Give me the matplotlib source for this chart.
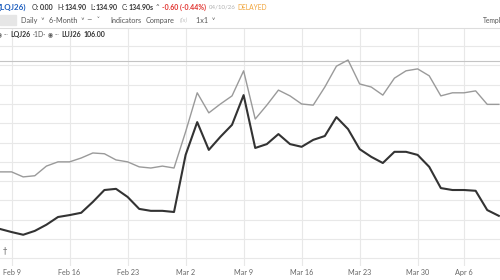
# 两条期货价格走势图 (LQJ26 / LUJ26)
import matplotlib.pyplot as plt
import numpy as np

plt.rcParams['font.family'] = ['Lato', 'DejaVu Sans']

# 交易日序列
lqj26 = [117.4, 117.4, 116.1, 116.4, 118.9, 120.0, 120.0, 121.0, 122.3, 122.1,
         120.5, 120.0, 118.7, 118.4, 118.9, 118.4, 127.8, 137.9, 132.7, 135.0,
         137.1, 143.6, 131.1, 134.7, 138.6, 137.1, 135.0, 134.7, 139.4, 144.8,
         146.4, 140.2, 139.4, 137.3, 141.7, 143.6, 144.1, 142.3, 137.1, 137.9,
         137.9, 138.4, 134.9, 134.9]
luj26 = [102.6, 101.8, 101.1, 102.1, 103.7, 105.7, 106.2, 106.8, 109.6, 112.7,
         113.0, 110.9, 107.8, 107.3, 107.3, 107.0, 121.8, 130.3, 123.1, 126.5,
         129.6, 137.3, 123.6, 124.6, 127.2, 124.6, 123.9, 125.7, 126.7, 131.6,
         128.5, 123.3, 121.3, 119.7, 122.6, 122.6, 121.8, 118.7, 113.2, 112.7,
         112.7, 112.5, 107.5, 106.0]
tick_pos = [1, 6, 11, 16, 21, 26, 31, 36, 40]
tick_labels = ["Feb 9", "Feb 16", "Feb 23", "Mar 2", "Mar 9", "Mar 16",
               "Mar 23", "Mar 30", "Apr 6"]
grid_levels = [95, 100, 105, 110, 115, 120, 125, 130, 135, 140, 145, 150]
high_line = 146.1

fig = plt.figure(figsize=(5, 2.8), dpi=100)
ax = fig.add_axes([0, 14 / 280, 1, 238 / 280])

x = np.arange(len(lqj26))
ax.plot(x, lqj26, color='#9a9a9a', lw=1.0, zorder=3)
ax.plot(x, luj26, color='#333333', lw=1.5, zorder=4)

for g in grid_levels:
    ax.axhline(g, color='#e8e8e8', lw=0.8, zorder=1)
ax.axhline(high_line, color='#c4c4c4', lw=0.8, zorder=2)
for p in tick_pos:
    ax.axvline(p, color='#e8e8e8', lw=0.8, zorder=1)

ax.set_xlim(0, 43.1)
ax.set_ylim(93.0, 154.7)
ax.set_xticks(tick_pos)
ax.set_xticklabels(tick_labels, fontsize=5.2, color='#666666')
ax.tick_params(axis='x', length=0, pad=2.5)
ax.set_yticks([])
for s in ['left', 'right', 'bottom']:
    ax.spines[s].set_visible(False)
ax.spines['top'].set_color('#dddddd')
ax.spines['top'].set_linewidth(0.8)
ax.text(0.006, 0.055, "†", transform=ax.transAxes, fontsize=6, color='#777777',
        family='DejaVu Sans')

renderer = fig.canvas.get_renderer()


def row(x0, yp, pieces, size=5.0, color='#333333'):
    # 按顺序排列文字, 每段 (文字, 前间距, 样式)
    xp = x0
    for s, gap, kw in pieces:
        kw = dict(kw)
        kw.setdefault('fontsize', size)
        kw.setdefault('color', color)
        xp += gap
        t = fig.text(xp / 500, 1 - yp / 280, s, va='center', ha='left', **kw)
        xp += t.get_window_extent(renderer).width


B = {'fontweight': 'bold'}
# 第一行: 报价
row(-1, 7, [
    ("(LQJ26)", 0, {'color': '#1f5fbf', 'fontweight': 'bold', 'fontsize': 5.8}),
    ("O:", 5, {}), ("0.00", 0.5, B),
    ("H:", 4, {}), ("134.90", 0.5, B),
    ("L:", 3.5, {}), ("134.90", 0.5, B),
    ("C:", 3.5, {}), ("134.90s", 0.5, B),
    ("^", 2.5, {'fontsize': 4.5}),
    ("-0.60 (-0.44%)", 2.5, {'color': '#e0312d', 'fontweight': 'bold'}),
    ("04/10/26", 3, {'color': '#b0b0b0', 'fontsize': 4.4}),
    ("DELAYED", 1.5, {'color': '#f0a43a', 'fontsize': 4.8}),
], size=5.0)

# 第二行: 工具栏
fig.patches.append(plt.Rectangle((0, 1 - 25 / 280), 16 / 500, 10 / 280,
                                 transform=fig.transFigure, color='#e6e6e6'))
tb = {'fontsize': 5.2, 'color': '#555555'}
row(21, 20.5, [("Daily  \u02c5", 0, tb)])
row(49, 20.5, [("6-Month  \u02c5", 0, tb)])
row(87, 20.5, [("~  \u02c5", 0, dict(tb, family='DejaVu Sans', fontsize=4.8))])
row(110, 20.5, [("Indicators", 0, tb)])
row(146, 20.5, [("Compare", 0, tb)])
row(180, 20.5, [("f(x)", 0, {'fontsize': 4.4, 'color': '#c0c0c0',
                             'style': 'italic'})])
row(196, 20.5, [("1x1  \u02c5", 0, tb)])
row(483, 20.5, [("Templ", 0, {'fontsize': 4.8, 'color': '#555555'})])

# 第三行: 图例
eye = {'fontsize': 4.2, 'color': '#555555', 'family': 'DejaVu Sans'}
dots = {'fontsize': 4.5, 'color': '#888888'}
row(-3, 34.5, [("\u25c9", 0, eye), ("\u00b7\u00b7\u00b7", 2, dots),
               ("LQJ26", 1.5, B), ("\u00b71D\u00b7", 1.5, {'color': '#555555'})],
    size=5.0)
row(48, 34.5, [("\u25c9", 0, eye), ("\u00b7\u00b7\u00b7", 2, dots),
               ("LUJ26", 1.5, B), ("106.00", 2.5, B)], size=5.0)

plt.savefig("out.png", dpi=100)
